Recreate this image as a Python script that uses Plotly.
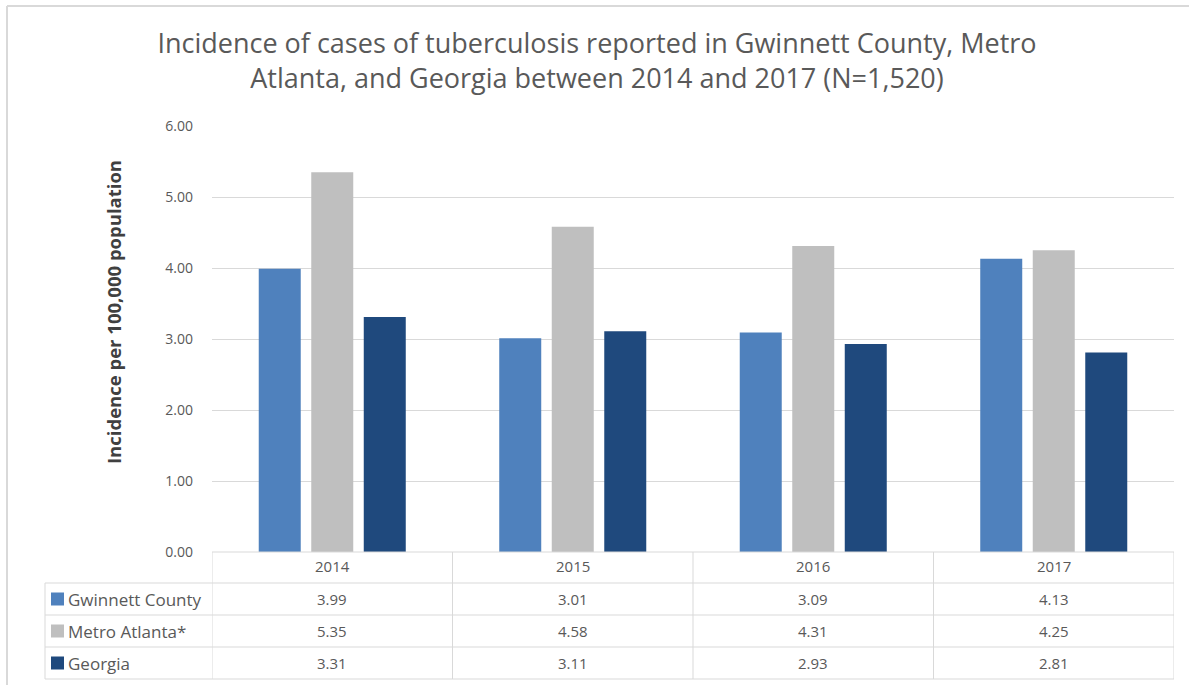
import plotly.graph_objects as go

years = ["2014", "2015", "2016", "2017"]
series_names = ["Gwinnett County", "Metro Atlanta*", "Georgia"]
gwinnett = [3.99, 3.01, 3.09, 4.13]
metro = [5.35, 4.58, 4.31, 4.25]
georgia = [3.31, 3.11, 2.93, 2.81]
colors = ["#4F81BD", "#BFBFBF", "#1F497D"]
y_ticks = [0, 1, 2, 3, 4, 5, 6]

W, H = 1189, 685
L, R, T, B = 212, 1174, 126, 552
FONT = "Open Sans"
GRID = "#D9D9D9"
TXT = "#595959"

def py(Y):
    return (B - Y) / (B - T)

def px(X):
    return (X - L) / (R - L)

fig = go.Figure()
values = [gwinnett, metro, georgia]
for name, vals, c in zip(series_names, values, colors):
    fig.add_trace(go.Bar(x=years, y=vals, name=name, marker=dict(color=c, line=dict(width=0)),
                         showlegend=False))

shapes = []
annotations = []

# table lines
row_lines = [583, 615, 647, 679]
shapes.append(dict(type="line", xref="paper", yref="paper", x0=0, x1=1, y0=py(B), y1=py(B),
                   line=dict(color=GRID, width=1)))
for Y in row_lines:
    shapes.append(dict(type="line", xref="paper", yref="paper", x0=px(45), x1=1, y0=py(Y), y1=py(Y),
                       line=dict(color=GRID, width=1)))
shapes.append(dict(type="line", xref="paper", yref="paper", x0=px(45), x1=px(45), y0=py(583), y1=py(679),
                   line=dict(color=GRID, width=1)))
for i in range(len(years) + 1):
    shapes.append(dict(type="line", xref="x", yref="paper", x0=i - 0.5, x1=i - 0.5, y0=py(B), y1=py(679),
                       line=dict(color=GRID, width=1)))

# outer chart border (top and left)
shapes.append(dict(type="line", xref="paper", yref="paper", x0=px(7), x1=px(1189), y0=py(6), y1=py(6),
                   line=dict(color="#D9D9D9", width=2)))
shapes.append(dict(type="line", xref="paper", yref="paper", x0=px(7), x1=px(7), y0=py(6), y1=py(685),
                   line=dict(color="#D9D9D9", width=2)))

# y-axis title
annotations.append(dict(x=px(113), y=py(312), xref="paper", yref="paper",
                        text="<b>Incidence per 100,000 population</b>", textangle=-90, showarrow=False,
                        xanchor="center", yanchor="middle",
                        font=dict(family=FONT, size=18.5, color="#404040")))

# header years
for i, yr in enumerate(years):
    annotations.append(dict(x=i, y=py(566), xref="x", yref="paper", text=yr, showarrow=False,
                            yanchor="middle", font=dict(family=FONT, size=15, color=TXT)))

row_centers = [599, 631, 663]
for r, (name, vals, c) in enumerate(zip(series_names, values, colors)):
    yc = row_centers[r]
    shapes.append(dict(type="rect", xref="paper", yref="paper", x0=px(51), x1=px(64),
                       y0=py(yc - 6.5), y1=py(yc + 6.5), fillcolor=c, line=dict(width=0)))
    annotations.append(dict(x=px(66), y=py(yc), xref="paper", yref="paper", text=name, showarrow=False,
                            xanchor="left", yanchor="middle", font=dict(family=FONT, size=17, color=TXT)))
    for i, v in enumerate(vals):
        annotations.append(dict(x=i, y=py(yc), xref="x", yref="paper", text=f"{v:.2f}",
                                showarrow=False, yanchor="middle",
                                font=dict(family=FONT, size=15, color=TXT)))

fig.update_layout(
    width=W, height=H,
    margin=dict(l=L, r=W - R, t=T, b=H - B, autoexpand=False),
    paper_bgcolor="white", plot_bgcolor="white",
    title=dict(text="Incidence of cases of tuberculosis reported in Gwinnett County, Metro<br>Atlanta, and Georgia between 2014 and 2017 (N=1,520)",
               x=597 / W, xanchor="center", y=1 - 53 / H, yanchor="middle",
               font=dict(family=FONT, size=27, color=TXT)),
    barmode="group", bargap=0.345, bargroupgap=0.2,
    shapes=shapes, annotations=annotations,
    font=dict(family=FONT, color=TXT),
)
fig.update_xaxes(type="category", range=[-0.5, 3.5], showticklabels=False, showline=False,
                 showgrid=False, zeroline=False, ticks="")
fig.update_yaxes(range=[0, 6], tickvals=y_ticks, tickformat=".2f", showgrid=True, gridcolor=GRID,
                 gridwidth=1, zeroline=False, showline=False, ticks="",
                 tickfont=dict(family=FONT, size=14, color=TXT), ticklabelstandoff=18)

fig.write_html("out.html", config={"displayModeBar": False},
               post_script="document.body.style.margin='0px';")
